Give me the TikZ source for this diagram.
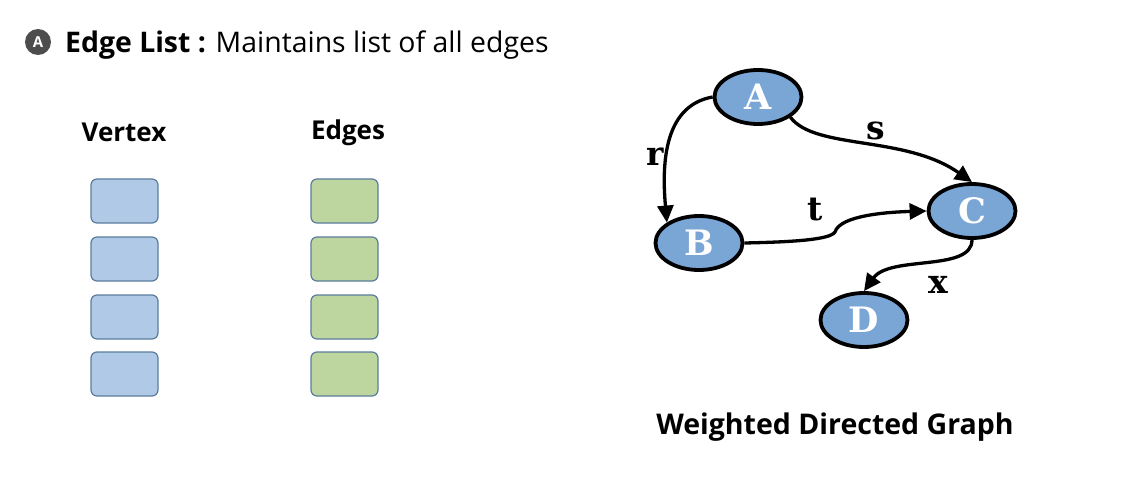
\documentclass[tikz,border=0pt]{standalone}
\usepackage{fontspec}
\setmainfont{Open Sans}
\newfontfamily\slabfont{DejaVu Serif}
\usetikzlibrary{arrows.meta,shapes.geometric}
\definecolor{vfill}{HTML}{B0C9E7}
\definecolor{efill}{HTML}{BDD59E}
\definecolor{boxline}{HTML}{5B7C9C}
\definecolor{gnode}{HTML}{7AA6D6}
\definecolor{badge}{HTML}{4D4D4D}
\tikzset{
  cell/.style={draw=boxline,line width=1.2pt,rounded corners=6pt,minimum width=67pt,minimum height=44pt,inner sep=0pt},
  vcell/.style={cell,fill=vfill},
  ecell/.style={cell,fill=efill},
  gv/.style={ellipse,draw=black,line width=3.8pt,fill=gnode,minimum width=87pt,minimum height=54pt,inner sep=0pt,text=white,font=\slabfont\bfseries\fontsize{35}{35}\selectfont},
  garr/.style={line width=3.3pt,-{Triangle[length=17pt,width=16pt]}},
  wlab/.style={font=\slabfont\bfseries\fontsize{33}{33}\selectfont},
  head/.style={font=\bfseries\fontsize{26}{26}\selectfont},
}
\begin{document}
\begin{tikzpicture}[x=1pt,y=-1pt]
\useasboundingbox (0,0) rectangle (1136,492);
% title
\node[circle,fill=badge,minimum size=26pt,inner sep=0pt,text=white,font=\bfseries\fontsize{15}{15}\selectfont] (badgeA) at (38,42) {A};
\node[anchor=base west,inner sep=0pt,font=\fontsize{28.4}{28.4}\selectfont] (title) at (65,53) {\textbf{Edge List :} Maintains list of all edges};
% columns
\node[head,anchor=base,inner sep=0pt] (vh) at (124,142) {Vertex};
\node[head,anchor=base,inner sep=0pt] (eh) at (348,140) {Edges};
\foreach \i/\y in {1/201,2/259,3/317,4/374}{
  \node[vcell] (v\i) at (124.5,\y) {};
  \node[ecell] (e\i) at (344.5,\y) {};
}
% graph
\node[gv] (A) at (758,97) {A};
\node[gv] (B) at (699,243) {B};
\node[gv] (C) at (972,211) {C};
\node[gv] (D) at (864,320) {D};
\draw[garr] (A.west) to[out=190,in=95] (B.north west);
\draw[garr] (A.-32) .. controls (815,150) and (905,135) .. (C.north);
\draw[garr] (B.east) .. controls (790,242) and (830,240) .. (835,232) .. controls (840,215) and (890,212) .. (C.west);
\draw[garr] (C.south) .. controls (972,272) and (890,255) .. (D.north);
\node[wlab] (lr) at (655,157) {r};
\node[wlab] (ls) at (876,131) {s};
\node[wlab] (lt) at (815,210) {t};
\node[wlab] (lx) at (938,285) {x};
\node[anchor=base,inner sep=0pt,font=\bfseries\fontsize{28.5}{28.5}\selectfont] (cap) at (835,434) {Weighted Directed Graph};
\end{tikzpicture}
\end{document}
